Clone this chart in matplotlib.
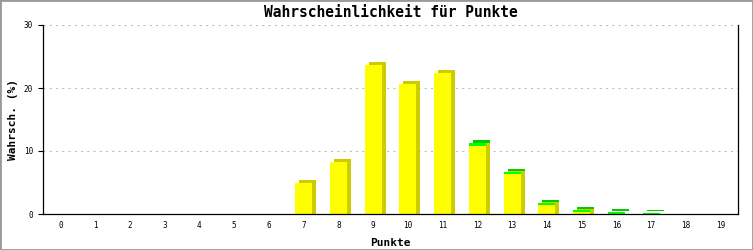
import matplotlib
matplotlib.use("Agg")
import matplotlib.pyplot as plt
import matplotlib.transforms as mtransforms
from matplotlib.patches import Rectangle
import numpy as np

# values (percent)
punkte = list(range(20))
tick_labels = [str(p) for p in punkte]
gelb = [0, 0, 0, 0, 0, 0, 0, 5.0, 8.3, 23.65, 20.7, 22.4, 10.8, 6.4, 1.5, 0.37, 0, 0, 0, 0]
gruen = [0, 0, 0, 0, 0, 0, 0, 0, 0, 0, 0, 0, 0.5, 0.3, 0.3, 0.28, 0.27, 0.12, 0, 0]

YELLOW = "#ffff00"
YELLOW_DARK = "#cccc00"
GREEN = "#00ff00"
GREEN_DARK = "#00cc00"
MONO = "DejaVu Sans Mono"

fig = plt.figure(figsize=(7.53, 2.5), dpi=100)
ax = fig.add_axes([43 / 753, 36 / 250, 695 / 753, 189 / 250])
ax.set_xlim(-0.5, 19.5)
ax.set_ylim(0, 30)

x = np.array(punkte)
gelb = np.array(gelb)
gruen = np.array(gruen)
w = 0.49

# 3d shadow: shifted 4px right, and 3px taller (in data units)
shift = ax.transData + mtransforms.ScaledTranslation(4 / 100, 0, fig.dpi_scale_trans)
dy = 3 * 30 / 189
mask_g = gelb > 0
mask_n = gruen > 0
ax.bar(x[mask_g], gelb[mask_g] + dy, w, color=YELLOW_DARK, linewidth=0, transform=shift, zorder=2)
ax.bar(x[mask_n], gruen[mask_n], w, bottom=gelb[mask_n] + dy, color=GREEN_DARK, linewidth=0,
       transform=shift, zorder=2)
ax.bar(x[mask_g], gelb[mask_g], w, color=YELLOW, linewidth=0, zorder=3)
ax.bar(x[mask_n], gruen[mask_n], w, bottom=gelb[mask_n], color=GREEN, linewidth=0, zorder=3)

ax.set_yticks([0, 10, 20, 30])
ax.set_xticks(punkte)
ax.set_xticklabels(tick_labels)

for lab in ax.get_xticklabels() + ax.get_yticklabels():
    lab.set_family(MONO)
    lab.set_fontsize(5.5)

ax.tick_params(axis="x", length=0, pad=5)
ax.tick_params(axis="y", length=3.6, width=0.8, pad=3.5)

ax.yaxis.grid(True, color="#bbbbbb", linewidth=0.75, linestyle=(0, (2, 4)))
ax.set_axisbelow(True)

ax.spines["top"].set_visible(False)
for s in ["left", "bottom", "right"]:
    ax.spines[s].set_linewidth(0.9)
    ax.spines[s].set_color("black")
    ax.spines[s].set_zorder(4)

ax.set_title("Wahrscheinlichkeit für Punkte", fontsize=10.5, fontweight="bold",
             family=MONO, pad=6)
ax.set_xlabel("Punkte", fontsize=8, fontweight="bold", family=MONO, labelpad=6)
ax.set_ylabel("Wahrsch. (%)", fontsize=8, fontweight="bold", family=MONO, labelpad=4)

fig.patches.append(Rectangle((0, 0), 1, 1, transform=fig.transFigure, fill=False,
                             edgecolor="#999999", linewidth=2))

fig.savefig("out.png", dpi=100)
